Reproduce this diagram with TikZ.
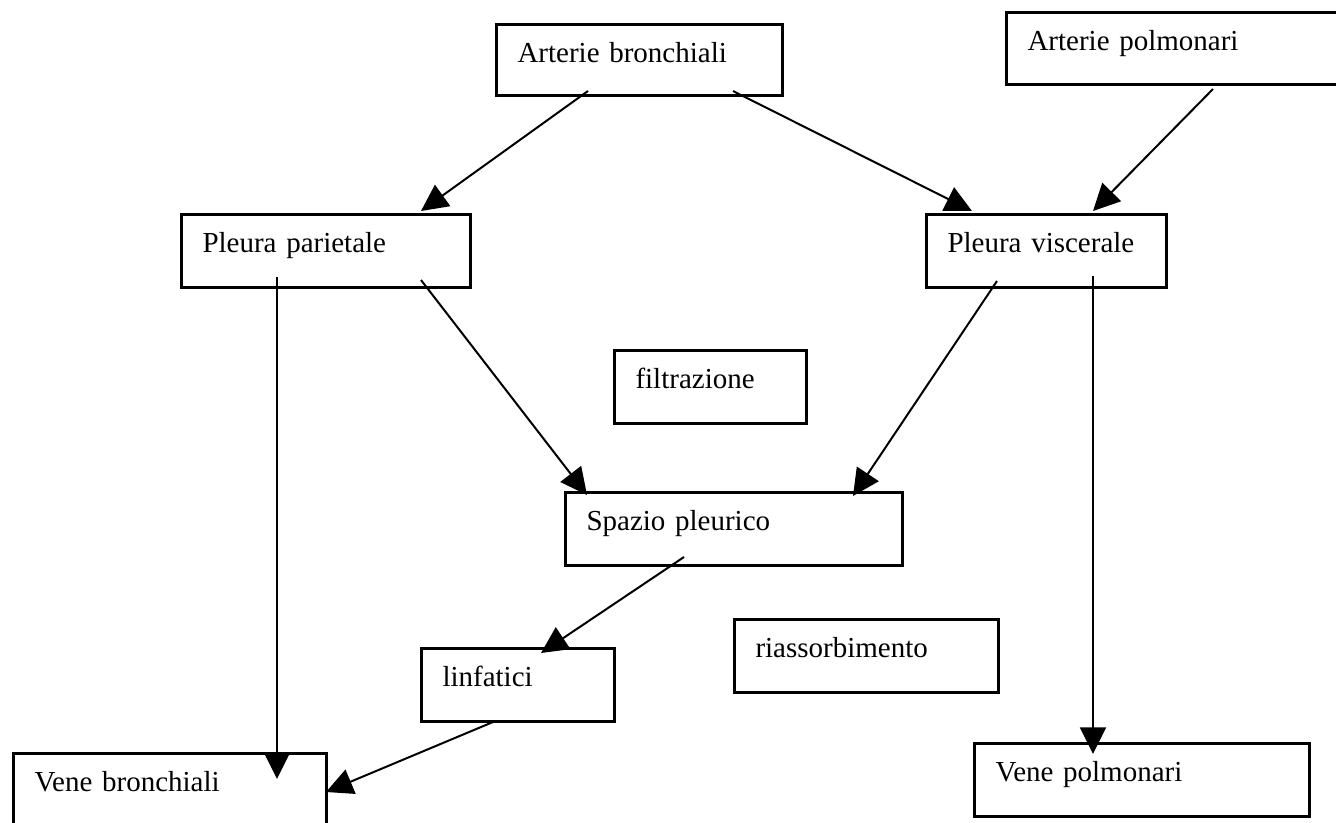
\documentclass[tikz,border=0pt]{standalone}
\usepackage{fontspec}
\setmainfont{Liberation Serif}
\usetikzlibrary{arrows.meta,calc}

\begin{document}
\begin{tikzpicture}[
  x=0.75pt, y=-0.75pt,
  font=\fontsize{21.75pt}{26pt}\selectfont,
  box/.style={draw, line width=2.25pt, anchor=north west, align=left,
    inner xsep=15.75pt, inner ysep=0pt, text height=28.5pt, text depth=26.25pt},
  flow/.style={line width=1.5pt, -{Triangle[length=20pt,width=19.5pt]}}
]
\useasboundingbox (0,0) rectangle (1336,822);

% boxes
\node[box, text width=183pt, text depth=24.75pt] (ab) at (495,23) {Arterie bronchiali};
\node[box, text width=223.5pt, text depth=25.5pt] (ap) at (1005,11) {Arterie polmonari};
\node[box, text width=185.25pt] (pp) at (180,213) {Pleura parietale};
\node[box, text width=148.5pt] (pv) at (925,213) {Pleura viscerale};
\node[box, text width=112.5pt] (fi) at (613,349) {filtrazione};
\node[box, text width=221.25pt] (sp) at (564,491) {Spazio pleurico};
\node[box, text width=113.25pt] (li) at (420,647) {linfatici};
\node[box, text width=166.5pt] (ri) at (733,618) {riassorbimento};
\node[box, text width=203.25pt, text depth=37.5pt] (vb) at (12,752) {Vene bronchiali};
\node[box, text width=219.75pt] (vp) at (973,742) {Vene polmonari};

% connectors
\draw[flow] ($(ab.north west)+(93,68)$) -- ($(pp.north west)+(241,-2)$);
\draw[flow] ($(ab.north west)+(238,68)$) -- ($(pv.north west)+(47,-2)$);
\draw[flow] ($(ap.north west)+(208,78)$) -- ($(pv.north west)+(168,-2)$);
\draw[flow] ($(pp.north west)+(241,67)$) -- ($(sp.north west)+(23,4)$);
\draw[flow] ($(pv.north west)+(72,68)$) -- ($(sp.north west)+(289,5)$);
\draw[flow] ($(pp.north west)+(97,64)$) -- ($(vb.north west)+(265,27)$);
\draw[flow] ($(pv.north west)+(168,63)$) -- ($(vp.north west)+(120,12)$);
\draw[flow] ($(sp.north west)+(120,66)$) -- ($(li.north west)+(121,6)$);
\draw[flow] ($(li.north west)+(73,75)$) -- ($(vb.north west)+(314,40)$);
\end{tikzpicture}
\end{document}
